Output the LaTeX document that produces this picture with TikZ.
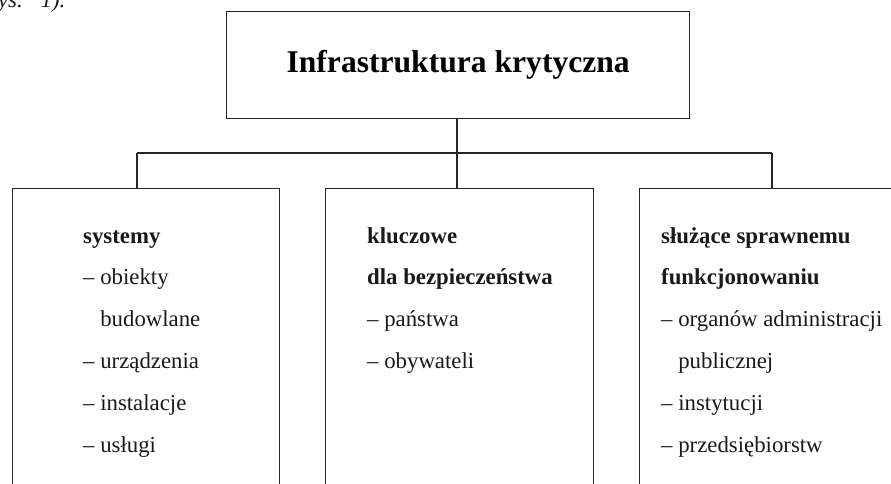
\documentclass[tikz,border=0pt]{standalone}
\usepackage{fontspec}
\setmainfont{Liberation Serif}
\tikzset{
  frame/.style={draw=black!85, line width=1.4pt},
  conn/.style={draw=black!85, line width=1.4pt},
  boxnode/.style={frame, rectangle, inner sep=0pt, anchor=north west},
  txt/.style={anchor=base west, inner sep=0pt, font=\fontsize{22.8}{27}\selectfont, text=black!90},
  hd/.style={txt, font=\fontsize{22.8}{27}\selectfont\bfseries},
}
\newcommand{\ind}{\phantom{– }}
\begin{document}
\begin{tikzpicture}[x=1pt,y=-1pt]
\useasboundingbox (0,0) rectangle (891,484);
\clip (0,0) rectangle (891,484);
% fragment of running text
\node[txt, font=\fontsize{22.8}{27}\selectfont\itshape] (frag) at (-11,7.5) {rys.\hspace{18pt}1).};
% top box
\node[boxnode, minimum width=463pt, minimum height=107pt,
      font=\fontsize{31.6}{38}\selectfont\bfseries] (top) at (226,11) {Infrastruktura krytyczna};
% lower boxes
\node[boxnode, minimum width=267pt, minimum height=340pt] (left) at (12,188) {};
\node[boxnode, minimum width=268pt, minimum height=340pt] (mid) at (325,188) {};
\node[boxnode, minimum width=300pt, minimum height=340pt] (right) at (639,188) {};
% connectors
\coordinate (bus) at (457,153);
\coordinate (jl) at (137,153);
\coordinate (jr) at (772,153);
\draw[conn] (top.south -| bus) -- (bus);
\draw[conn] (jl) -- (jr);
\draw[conn] (jl) -- (jl |- left.north);
\draw[conn] (bus) -- (bus |- mid.north);
\draw[conn] (jr) -- (jr |- right.north);
% left texts
\node[hd]  (l1) at (83,243) {systemy};
\node[txt] (l2) at (83,284.8) {– obiekty};
\node[txt] (l3) at (83,326.6) {\ind budowlane};
\node[txt] (l4) at (83,368.4) {– urządzenia};
\node[txt] (l5) at (83,410.2) {– instalacje};
\node[txt] (l6) at (83,452) {– usługi};
% middle texts
\node[hd]  (m1) at (367,243) {kluczowe};
\node[hd]  (m2) at (367,284.8) {dla bezpieczeństwa};
\node[txt] (m3) at (367,326.6) {– państwa};
\node[txt] (m4) at (367,368.4) {– obywateli};
% right texts
\node[hd]  (r1) at (661,243) {służące sprawnemu};
\node[hd]  (r2) at (661,284.8) {funkcjonowaniu};
\node[txt] (r3) at (661,326.6) {– organów administracji};
\node[txt] (r4) at (661,368.4) {\ind publicznej};
\node[txt] (r5) at (661,410.2) {– instytucji};
\node[txt] (r6) at (661,452) {– przedsiębiorstw};
\end{tikzpicture}
\end{document}
